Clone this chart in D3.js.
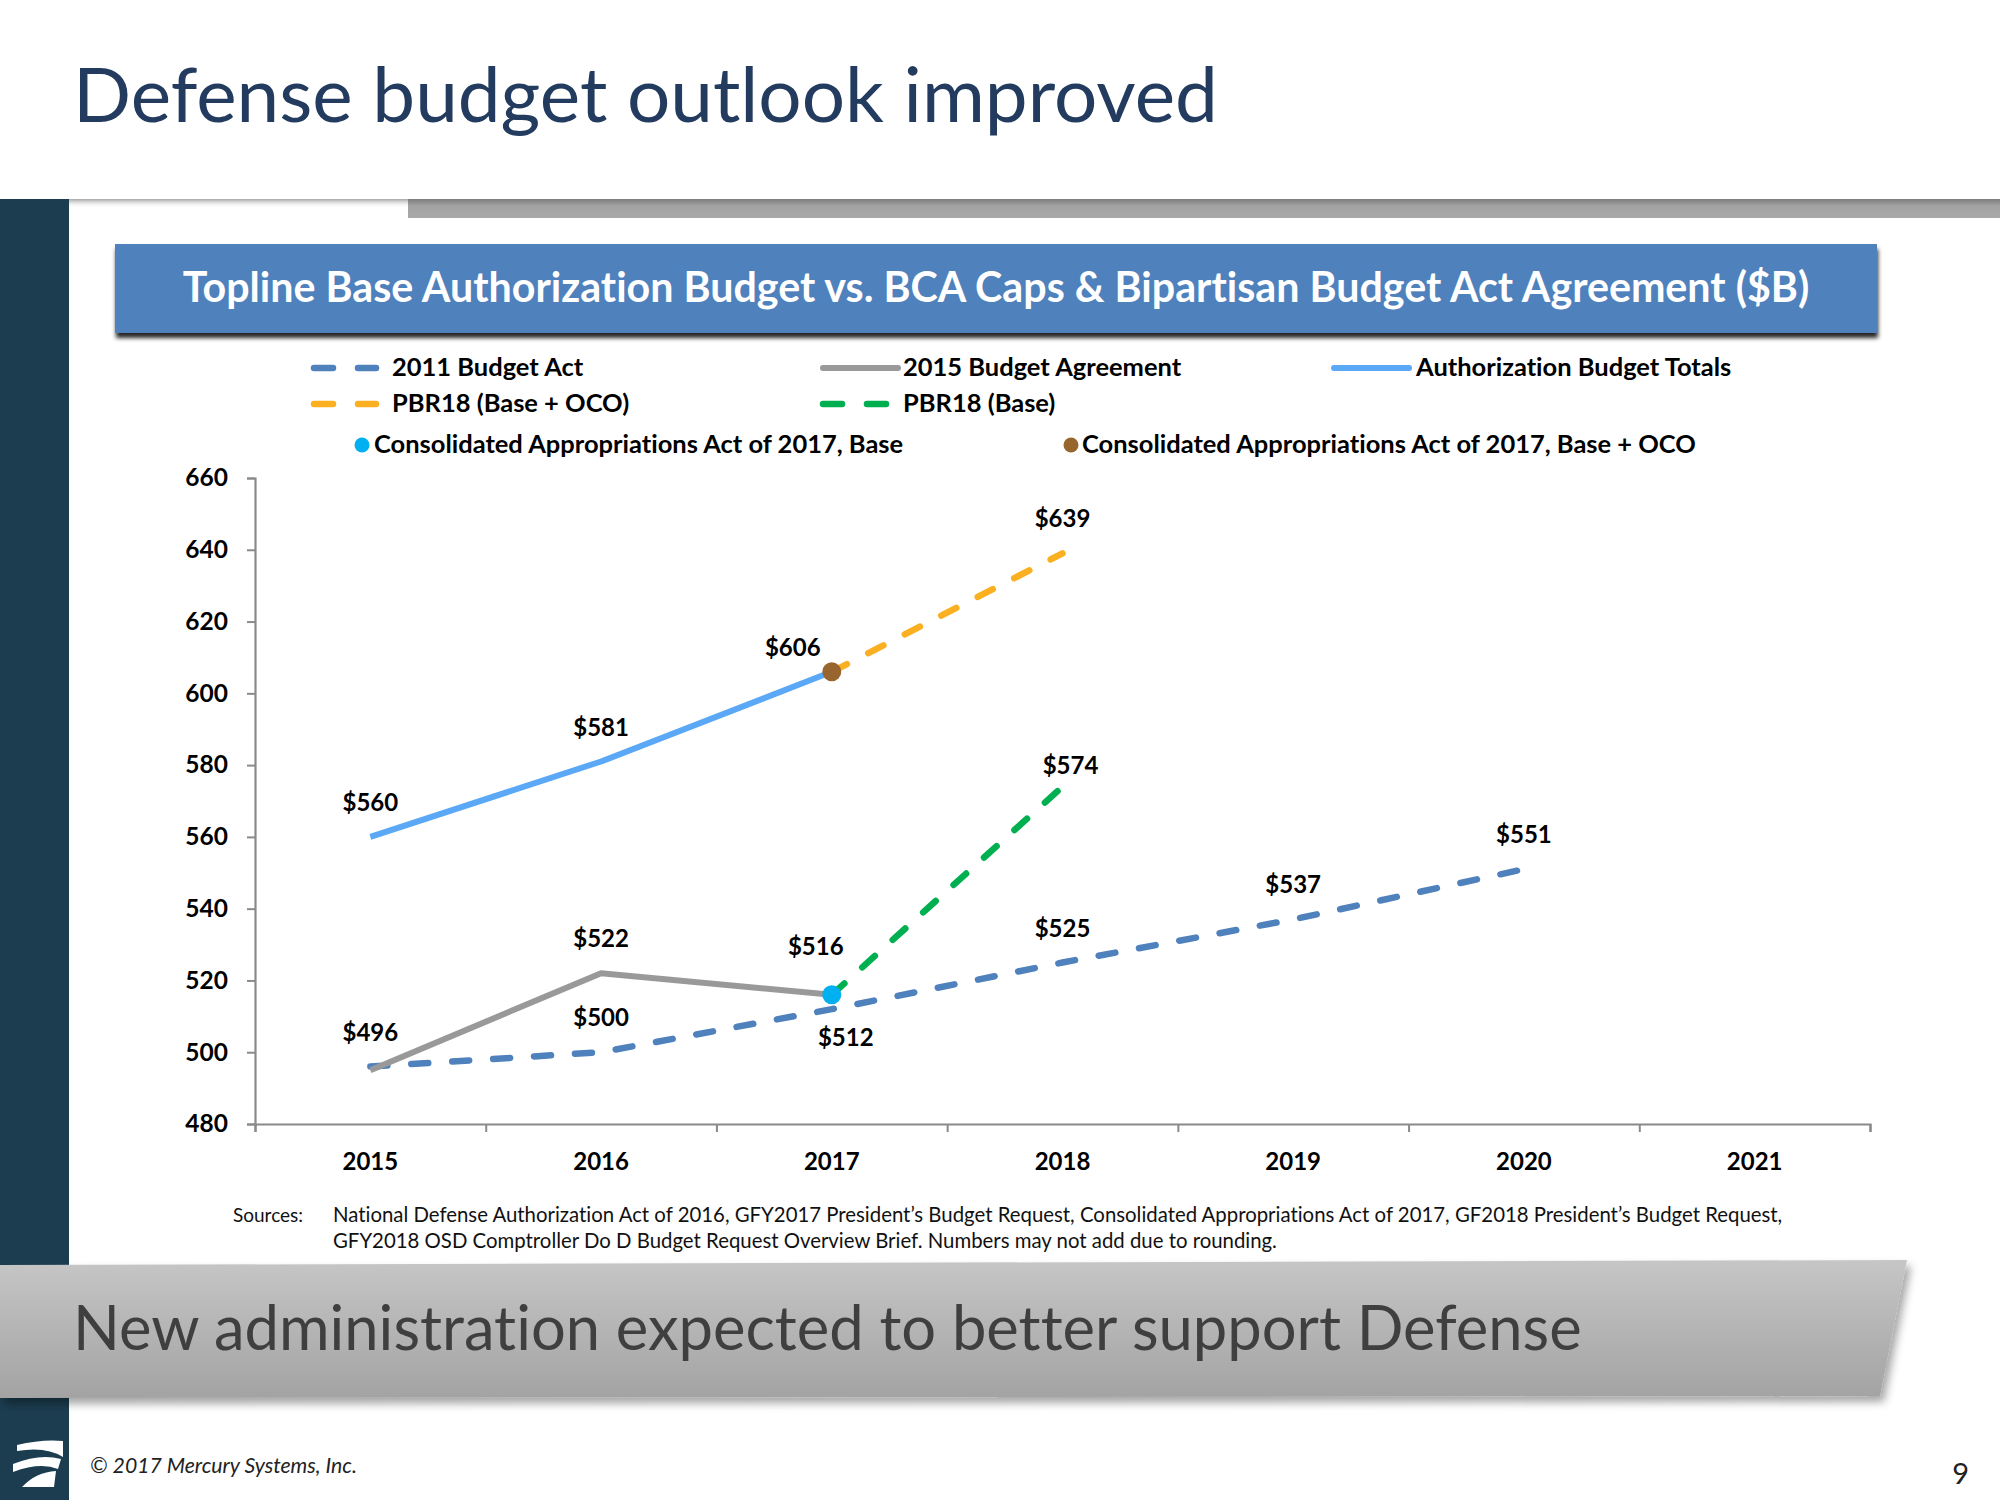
<!DOCTYPE html>
<html>
<head>
<meta charset="utf-8">
<script src="https://cdn.jsdelivr.net/npm/d3@7"></script>
<style>
  html, body { margin: 0; padding: 0; background: #ffffff; }
  svg { display: block; }
  svg text { font-variant-ligatures: none; font-feature-settings: "liga" 0, "clig" 0; }
</style>
</head>
<body>
<svg id="chart" width="2000" height="1500"></svg>
<script>
// ---------------- DATA ----------------
const years = ["2015", "2016", "2017", "2018", "2019", "2020", "2021"];
const budgetAct2011       = [496, 500, 512, 525, 537, 551, null];
const budgetAgreement2015 = [495, 522, 516, null, null, null, null];
const authorizationTotals = [560, 581, 606, null, null, null, null];
const pbr18BaseOco        = [null, null, 606, 639, null, null, null];
const pbr18Base           = [null, null, 516, 574, null, null, null];
const caa2017Base         = [null, null, 516, null, null, null, null];
const caa2017BaseOco      = [null, null, 606, null, null, null, null];
const yTicks = [480, 500, 520, 540, 560, 580, 600, 620, 640, 660];

const titleText = "Defense budget outlook improved";
const headerText = "Topline Base Authorization Budget vs. BCA Caps & Bipartisan Budget Act Agreement ($B)";
const bannerText = "New administration expected to better support Defense";
const sourcesLines = [
  "National Defense Authorization Act of 2016, GFY2017 President\u2019s Budget Request, Consolidated Appropriations Act of 2017, GF2018 President\u2019s Budget Request,",
  "GFY2018 OSD Comptroller Do D Budget Request Overview Brief. Numbers may not add due to rounding."
];

// ---------------- STYLE ----------------
const FONT = "Lato, 'Open Sans', 'Noto Sans', sans-serif";
const COLORS = {
  act2011: "#4F81BD", agree2015: "#999999", auth: "#5AA8F6",
  oco: "#FBB022", base: "#00B050", caaBase: "#00B0F0", caaOco: "#98652F",
  axis: "#8A8A8A", text: "#000000"
};
const DASH = "17,24";

const series = [
  { key: "act2011", name: "2011 Budget Act", values: budgetAct2011, color: COLORS.act2011, dash: true, labelIdx: [0,1,2,3,4,5] },
  { key: "agree2015", name: "2015 Budget Agreement", values: budgetAgreement2015, color: COLORS.agree2015, dash: false, labelIdx: [1,2] },
  { key: "auth", name: "Authorization Budget Totals", values: authorizationTotals, color: COLORS.auth, dash: false, labelIdx: [0,1,2] },
  { key: "oco", name: "PBR18 (Base + OCO)", values: pbr18BaseOco, color: COLORS.oco, dash: true, labelIdx: [3] },
  { key: "base", name: "PBR18 (Base)", values: pbr18Base, color: COLORS.base, dash: true, labelIdx: [3] }
];
const points = [
  { name: "Consolidated Appropriations Act of 2017, Base", values: caa2017Base, color: COLORS.caaBase },
  { name: "Consolidated Appropriations Act of 2017, Base + OCO", values: caa2017BaseOco, color: COLORS.caaOco }
];
// label placement offsets relative to the point (default: centred above)
const labelOffsets = {
  "auth|2017": [-39, -16],
  "agree2015|2017": [-16, -40],
  "act2011|2017": [14, 37],
  "base|2018": [8, -13]
};

// ---------------- LAYOUT ----------------
const svg = d3.select("#chart");
const defs = svg.append("defs");

function fitWidth(sel, target) {
  const w = sel.node().getComputedTextLength();
  const fs = parseFloat(sel.attr("font-size"));
  if (w > 0) sel.attr("font-size", (fs * target / w).toFixed(2));
  return sel;
}

// gradients & filters
const gBanner = defs.append("linearGradient").attr("id", "gBanner").attr("x1", 0).attr("y1", 0).attr("x2", 0).attr("y2", 1);
gBanner.append("stop").attr("offset", "0%").attr("stop-color", "#c6c6c6");
gBanner.append("stop").attr("offset", "100%").attr("stop-color", "#a3a3a3");
const gBar = defs.append("linearGradient").attr("id", "gBar").attr("x1", 0).attr("y1", 0).attr("x2", 0).attr("y2", 1);
gBar.append("stop").attr("offset", "0%").attr("stop-color", "#7d7d7d");
gBar.append("stop").attr("offset", "35%").attr("stop-color", "#a2a2a2");
gBar.append("stop").attr("offset", "100%").attr("stop-color", "#a8a8a8");
const gShade = defs.append("linearGradient").attr("id", "gShade").attr("x1", 0).attr("y1", 0).attr("x2", 0).attr("y2", 1);
gShade.append("stop").attr("offset", "0%").attr("stop-color", "#8f8f8f").attr("stop-opacity", 0.8);
gShade.append("stop").attr("offset", "100%").attr("stop-color", "#ffffff").attr("stop-opacity", 0);

const fHeader = defs.append("filter").attr("id", "fHeader").attr("x", "-5%").attr("y", "-20%").attr("width", "110%").attr("height", "150%");
fHeader.append("feDropShadow").attr("dx", 1).attr("dy", 5).attr("stdDeviation", 2).attr("flood-color", "#000").attr("flood-opacity", 0.85);
const fBanner = defs.append("filter").attr("id", "fBanner").attr("x", "-5%").attr("y", "-20%").attr("width", "110%").attr("height", "150%");
fBanner.append("feDropShadow").attr("dx", 4).attr("dy", 6).attr("stdDeviation", 4).attr("flood-color", "#000").attr("flood-opacity", 0.35);

// slide frame
svg.append("rect").attr("x", 0).attr("y", 0).attr("width", 2000).attr("height", 1500).attr("fill", "#ffffff");
svg.append("rect").attr("x", 69).attr("y", 199).attr("width", 1931).attr("height", 9).attr("fill", "url(#gShade)");
svg.append("rect").attr("x", 408).attr("y", 199).attr("width", 1592).attr("height", 19).attr("fill", "url(#gBar)");
svg.append("rect").attr("x", 0).attr("y", 199).attr("width", 69).attr("height", 1301).attr("fill", "#1B3D4F");

// title
fitWidth(svg.append("text").attr("x", 73).attr("y", 122).attr("font-family", FONT).attr("font-size", 72)
  .attr("fill", "#223B5E").text(titleText), 1145);

// header box
svg.append("rect").attr("x", 115).attr("y", 244).attr("width", 1762).attr("height", 89)
  .attr("fill", "#4F81BD").attr("filter", "url(#fHeader)");
fitWidth(svg.append("text").attr("x", 996).attr("y", 302).attr("text-anchor", "middle").attr("font-family", FONT)
  .attr("font-weight", 700).attr("font-size", 40).attr("fill", "#ffffff").text(headerText), 1627);

// ---------------- CHART ----------------
const plot = { left: 255, right: 1870, top: 478, bottom: 1124 };
const x = d3.scaleBand().domain(years).range([plot.left, plot.right]).paddingInner(0).paddingOuter(0);
const xc = d => x(d) + x.bandwidth() / 2;
const y = d3.scaleLinear().domain([480, 660]).range([plot.bottom, plot.top]);
const xEdges = d3.scaleLinear().domain([0, years.length]).range([plot.left, plot.right]);

// y axis
const yAxisG = svg.append("g").attr("transform", `translate(${plot.left},0)`)
  .call(d3.axisLeft(y).tickValues(yTicks).tickSize(8).tickPadding(19).tickFormat(d3.format("d")));
yAxisG.select(".domain").attr("stroke", COLORS.axis).attr("stroke-width", 2.2);
yAxisG.selectAll(".tick line").attr("stroke", COLORS.axis).attr("stroke-width", 2);
yAxisG.selectAll(".tick text").attr("font-family", FONT).attr("font-weight", 700).attr("font-size", 24.5).attr("fill", COLORS.text);

// x axis (ticks at category boundaries)
const xAxisG = svg.append("g").attr("transform", `translate(0,${plot.bottom})`)
  .call(d3.axisBottom(xEdges).tickValues(d3.range(0, years.length + 1)).tickSize(8).tickSizeOuter(8).tickFormat(""));
xAxisG.select(".domain").attr("stroke", COLORS.axis).attr("stroke-width", 2.2);
xAxisG.selectAll(".tick line").attr("stroke", COLORS.axis).attr("stroke-width", 2);
svg.append("g").selectAll("text").data(years).join("text")
  .attr("x", d => xc(d)).attr("y", 1170).attr("text-anchor", "middle")
  .attr("font-family", FONT).attr("font-weight", 700).attr("font-size", 24).attr("fill", COLORS.text)
  .text(d => d);

// lines
const line = d3.line().defined(d => d.v != null).x(d => xc(d.year)).y(d => y(d.v));
const linesG = svg.append("g");
series.forEach(s => {
  const data = years.map((yr, i) => ({ year: yr, v: s.values[i] }));
  linesG.append("path").datum(data)
    .attr("d", line).attr("fill", "none").attr("stroke", s.color)
    .attr("stroke-width", s.dash ? 6.5 : 6)
    .attr("stroke-linecap", s.dash ? "round" : "butt")
    .attr("stroke-linejoin", "round")
    .attr("stroke-dasharray", s.dash ? DASH : null);
});

// point markers
points.forEach(p => {
  const data = years.map((yr, i) => ({ year: yr, v: p.values[i] })).filter(d => d.v != null);
  svg.append("g").selectAll("circle").data(data).join("circle")
    .attr("cx", d => xc(d.year)).attr("cy", d => y(d.v)).attr("r", 9.5).attr("fill", p.color);
});

// data labels
const labelData = [];
series.forEach(s => s.labelIdx.forEach(i => {
  const off = labelOffsets[s.key + "|" + years[i]] || [0, -26];
  labelData.push({ year: years[i], v: s.values[i], dx: off[0], dy: off[1] });
}));
svg.append("g").selectAll("text").data(labelData).join("text")
  .attr("x", d => xc(d.year) + d.dx).attr("y", d => y(d.v) + d.dy).attr("text-anchor", "middle")
  .attr("font-family", FONT).attr("font-weight", 700).attr("font-size", 24).attr("fill", COLORS.text)
  .text(d => "$" + d.v);

// ---------------- LEGEND ----------------
const legendLines = [
  { s: series[0], x0: 314, x1: 376, ly: 368, tx: 392 },
  { s: series[1], x0: 823, x1: 898, ly: 368, tx: 903 },
  { s: series[2], x0: 1334, x1: 1409, ly: 368, tx: 1416 },
  { s: series[3], x0: 314, x1: 376, ly: 404, tx: 392 },
  { s: series[4], x0: 823, x1: 898, ly: 404, tx: 903 }
];
const legendDots = [
  { p: points[0], cx: 362, ly: 445, tx: 374 },
  { p: points[1], cx: 1071, ly: 445, tx: 1082 }
];
const legG = svg.append("g");
// common legend font size from the longest entry
const probe = legG.append("text").attr("font-family", FONT).attr("font-weight", 700).attr("font-size", 24).text(points[1].name);
fitWidth(probe, 614);
const legFS = probe.attr("font-size");
probe.remove();

legendLines.forEach(l => {
  legG.append("line").attr("x1", l.x0).attr("x2", l.x1).attr("y1", l.ly).attr("y2", l.ly)
    .attr("stroke", l.s.color).attr("stroke-width", l.s.dash ? 6.5 : 6)
    .attr("stroke-linecap", "round")
    .attr("stroke-dasharray", l.s.dash ? "19,25" : null);
  legG.append("text").attr("x", l.tx).attr("y", l.ly + 7.5).attr("font-family", FONT).attr("font-weight", 700)
    .attr("font-size", legFS).attr("fill", COLORS.text).text(l.s.name);
});
legendDots.forEach(l => {
  legG.append("circle").attr("cx", l.cx).attr("cy", l.ly).attr("r", 7.5).attr("fill", l.p.color);
  legG.append("text").attr("x", l.tx).attr("y", l.ly + 7.5).attr("font-family", FONT).attr("font-weight", 700)
    .attr("font-size", legFS).attr("fill", COLORS.text).text(l.p.name);
});

// ---------------- SOURCES ----------------
svg.append("text").attr("x", 233).attr("y", 1222).attr("font-family", FONT).attr("font-size", 19)
  .attr("fill", "#111").text("Sources:");
const src1 = svg.append("text").attr("x", 333).attr("y", 1222).attr("font-family", FONT).attr("font-size", 19)
  .attr("fill", "#111").text(sourcesLines[0]);
fitWidth(src1, 1450);
svg.append("text").attr("x", 333).attr("y", 1248).attr("font-family", FONT).attr("font-size", src1.attr("font-size"))
  .attr("fill", "#111").text(sourcesLines[1]);

// ---------------- BOTTOM BANNER ----------------
svg.append("path").attr("d", "M0,1265 L1907,1260 L1880,1396 L0,1398 Z")
  .attr("fill", "url(#gBanner)").attr("filter", "url(#fBanner)");
fitWidth(svg.append("text").attr("x", 73).attr("y", 1350).attr("font-family", FONT).attr("font-size", 62)
  .attr("fill", "#3F3F3F").text(bannerText), 1509);

// footer
fitWidth(svg.append("text").attr("x", 90).attr("y", 1473).attr("font-family", FONT).attr("font-style", "italic")
  .attr("font-size", 20).attr("fill", "#222").text("\u00A9 2017 Mercury Systems, Inc."), 267);
svg.append("text").attr("x", 1969).attr("y", 1484).attr("text-anchor", "end").attr("font-family", FONT)
  .attr("font-size", 29).attr("fill", "#222").text("9");

// logo (white swooshes on the dark side bar)
const logo = svg.append("g").attr("fill", "#ffffff");
logo.append("path").attr("d", "M17,1445 Q42,1439 63,1441 L63,1457 Q46,1446 17,1451 Z");
logo.append("path").attr("d", "M13,1464 Q40,1453 61,1459 L58,1469 Q40,1462 13,1472 Z");
logo.append("path").attr("d", "M22,1487 Q36,1472 56,1471 L54,1487 Z");
</script>
</body>
</html>
